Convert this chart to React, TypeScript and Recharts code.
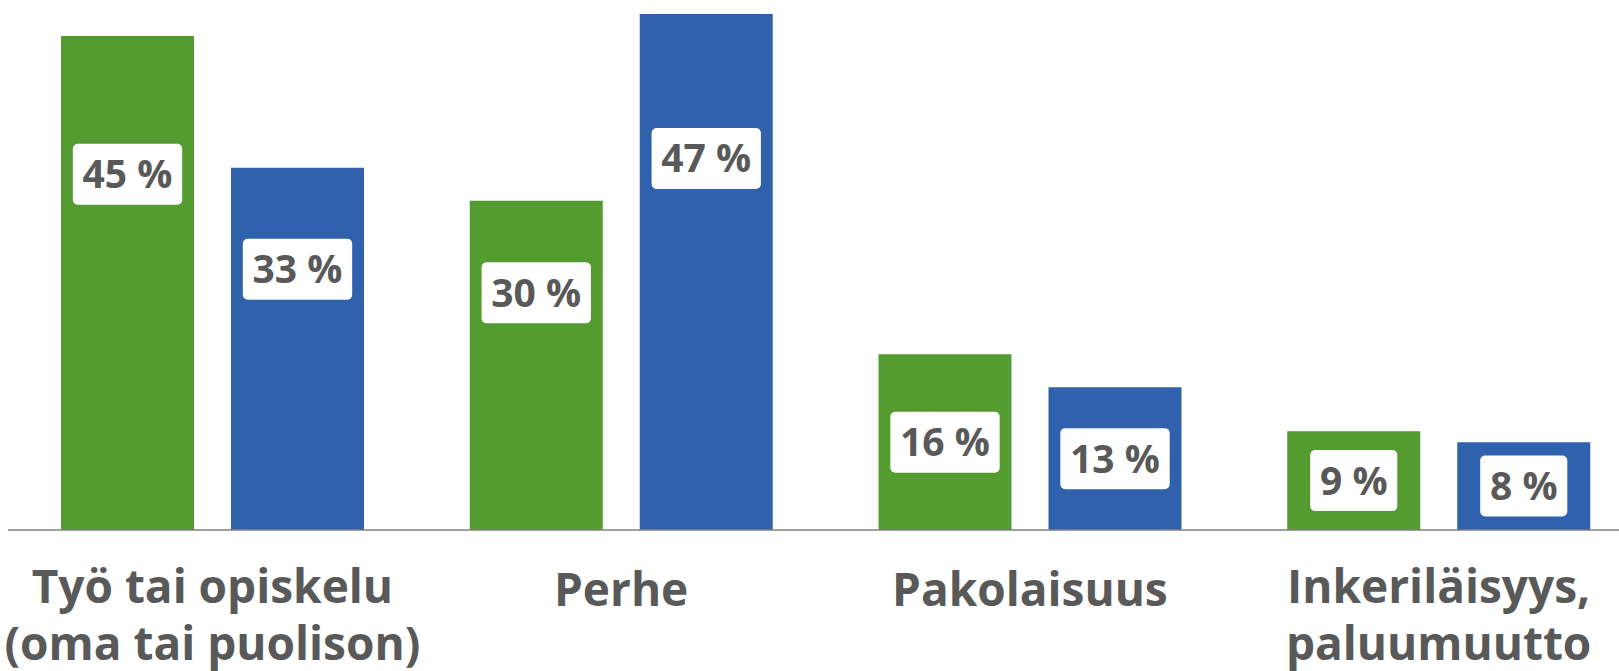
import React from "react";
import { BarChart, Bar, XAxis, YAxis } from "recharts";

const categories = [
  "Työ tai opiskelu\n(oma tai puolison)",
  "Perhe",
  "Pakolaisuus",
  "Inkeriläisyys,\npaluumuutto",
];
const greenValues = [45, 30, 16, 9];
const blueValues = [33, 47, 13, 8];

const GREEN = "#549b30";
const BLUE = "#2f61ad";
const TEXT = "#595959";
const FONT = "'Open Sans', 'Noto Sans', sans-serif";

const data = categories.map((name, i) => ({
  name,
  green: greenValues[i],
  blue: blueValues[i],
}));

const renderLabel = (props: any) => {
  const { x, y, width, height, value } = props;
  const text = `${value} %`;
  const digits = String(value).length;
  const boxW = (digits * 0.57 + 0.26 + 0.84) * 39 + 22;
  const boxH = 61;
  const cx = x + width / 2;
  const cy = value >= 25 ? y + height * 0.28 : y + height / 2;
  return (
    <g>
      <rect
        x={cx - boxW / 2}
        y={cy - boxH / 2}
        width={boxW}
        height={boxH}
        rx={5}
        fill="#fff"
      />
      <text
        x={cx}
        y={cy + 14}
        textAnchor="middle"
        fill={TEXT}
        fontFamily={FONT}
        fontWeight={700}
        fontSize={39}
      >
        {text}
      </text>
    </g>
  );
};

const CategoryTick = (props: any) => {
  const { x, y, payload } = props;
  const lines = String(payload.value).split("\n");
  const base = lines.length > 1 ? 65 : 68;
  return (
    <text
      x={x}
      y={y + base}
      textAnchor="middle"
      fill={TEXT}
      fontFamily={FONT}
      fontWeight={700}
      fontSize={46}
    >
      {lines.map((line, i) => (
        <tspan key={i} x={x} dy={i === 0 ? 0 : 57}>
          {line}
        </tspan>
      ))}
    </text>
  );
};

export default function App() {
  return (
    <div
      style={{
        position: "absolute",
        left: 0,
        top: 0,
        width: 1619,
        height: 671,
        overflow: "hidden",
        background: "#fff",
      }}
    >
      <BarChart
        width={1643}
        height={671}
        data={data}
        margin={{ top: 14, right: 0, left: 8, bottom: 0 }}
        barSize={133}
        barGap={37}
      >
        <XAxis
          dataKey="name"
          height={141}
          tickLine={false}
          axisLine={{ stroke: "#808080", strokeWidth: 1.5 }}
          tick={<CategoryTick />}
          interval={0}
        />
        <YAxis hide width={0} domain={[0, 47]} />
        <Bar dataKey="green" fill={GREEN} isAnimationActive={false} label={renderLabel} />
        <Bar dataKey="blue" fill={BLUE} isAnimationActive={false} label={renderLabel} />
      </BarChart>
    </div>
  );
}
